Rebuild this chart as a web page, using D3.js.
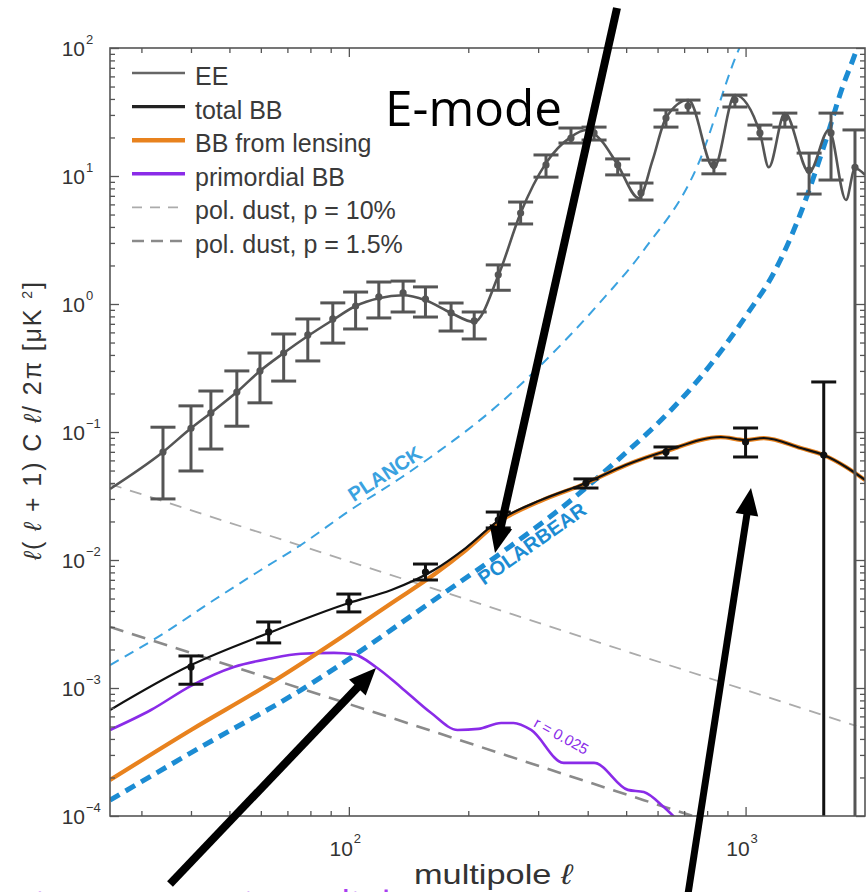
<!DOCTYPE html>
<html><head><meta charset="utf-8">
<script src="https://cdn.jsdelivr.net/npm/d3@7"></script>
<style>body{margin:0;background:#fff}svg{display:block}</style>
</head><body>
<svg id="chart" width="868" height="892"></svg>
<script>
// ---- EE theory spectrum (multipole, D_l in uK^2)
const eeL = [25, 34.0, 40.0, 44.9, 52.2, 59.7, 68.5, 78.8, 91.1, 104, 119, 137, 156, 181, 207, 238, 271, 314, 363, 396, 432, 476, 538, 583, 630, 718, 832, 940, 1087, 1144, 1256, 1446, 1622, 1791, 1887, 2000];
const eeV = [0.0359, 0.0698, 0.107, 0.141, 0.205, 0.30, 0.414, 0.562, 0.75, 0.965, 1.11, 1.17, 1.07, 0.851, 0.723, 1.66, 5.14, 12.6, 20.2, 22.9, 19.1, 12.2, 6.73, 13.3, 28.4, 39.2, 11.5, 42.9, 21.7, 11.7, 31.0, 10.7, 22.9, 6.49, 11.5, 10.2];

// ---- EE band powers with error bars
const eeDataL  = [34.0, 40.0, 44.9, 52.2, 59.7, 68.5, 78.8, 91.1, 104, 119, 137, 156, 181, 207, 238, 271, 314, 363, 415, 476, 545, 630, 716, 832, 940, 1087, 1256, 1446, 1642, 1887];
const eeDataV  = [0.0698, 0.107, 0.141, 0.205, 0.30, 0.414, 0.573, 0.764, 0.965, 1.135, 1.22, 1.094, 0.851, 0.737, 1.69, 5.14, 12.2, 19.8, 21.7, 12.2, 7.37, 28.4, 35.2, 12.2, 39.2, 21.7, 28.4, 11.1, 21.7, 11.7];
const eeDataLo = [0.030, 0.0496, 0.0736, 0.111, 0.169, 0.25, 0.359, 0.495, 0.638, 0.778, 0.866, 0.791, 0.615, 0.533, 1.28, 4.22, 9.8, 18.1, 19.1, 10.2, 6.49, 24.1, 31.0, 10.4, 34.6, 19.5, 24.1, 7.23, 9.3, 1e-6];
const eeDataHi = [0.109, 0.16, 0.209, 0.30, 0.414, 0.583, 0.764, 1.02, 1.24, 1.485, 1.51, 1.36, 1.018, 0.866, 2.02, 6.26, 14.6, 23.7, 24.1, 13.6, 8.81, 32.8, 39.2, 13.3, 42.9, 25.0, 31.0, 15.1, 31.0, 22.9];

// ---- total BB theory
const bbL = [25, 40, 62.8, 100, 128, 164, 197, 238, 305, 396, 499, 630, 866, 1000, 1112, 1377, 1574, 1791, 2000];
const bbV = [0.000673, 0.00151, 0.00269, 0.00461, 0.00583, 0.00835, 0.0124, 0.0202, 0.0294, 0.040, 0.0552, 0.0711, 0.0914, 0.0866, 0.0898, 0.075, 0.066, 0.0533, 0.0422];

// ---- BB from lensing
const lensL = [25, 40, 62.8, 100, 128, 164, 197, 238, 305, 396, 499, 630, 866, 1000, 1112, 1377, 1574, 1791, 2000];
const lensV = [0.000191, 0.00047, 0.00107, 0.00273, 0.0046, 0.0077, 0.0119, 0.0197, 0.0290, 0.0397, 0.0550, 0.0709, 0.0912, 0.0864, 0.0896, 0.0749, 0.0659, 0.0532, 0.0421];

// ---- primordial BB, r = 0.025
const primL = [25, 31.7, 40, 51.3, 62.8, 75.7, 91.7, 103, 117, 135, 161, 188, 212, 242, 260, 288, 348, 415, 505, 554, 622, 680];
const primV = [0.00047, 0.000673, 0.00104, 0.00146, 0.00169, 0.00185, 0.00188, 0.00183, 0.00146, 0.00102, 0.00064, 0.00047, 0.000479, 0.000533, 0.000533, 0.00047, 0.00026, 0.00026, 0.00016, 0.000154, 0.0001175, 0.00009];

// ---- BB band powers with error bars
const bbDataL  = [40.0, 62.8, 100, 156, 238, 396, 630, 1000, 1574];
const bbDataV  = [0.00146, 0.00274, 0.0047, 0.00806, 0.0205, 0.040, 0.0698, 0.0835, 0.066];
const bbDataLo = [0.00107, 0.00225, 0.00393, 0.00698, 0.0178, 0.0365, 0.0627, 0.0638, 1e-6];
const bbDataHi = [0.00178, 0.00328, 0.00542, 0.0093, 0.0237, 0.043, 0.0764, 0.1075, 0.246];

// ---- polarised dust foregrounds
const dust10L = [25, 200, 1900];
const dust10V = [0.0392, 0.00487, 0.000505];
const dust15L = [25, 100, 554, 800];
const dust15V = [0.0030, 0.00075, 0.000133, 0.000092];

// ---- experiment noise levels
const planckL = [25, 33.6, 45.7, 60, 75.7, 101, 135, 161, 238, 305, 424, 554, 758, 944, 1000];
const planckV = [0.00151, 0.00259, 0.00487, 0.00835, 0.0131, 0.0246, 0.0437, 0.0638, 0.163, 0.334, 0.982, 2.64, 12.2, 85, 130];
const pbL = [25, 42.4, 75.7, 164, 242, 356, 476, 649, 741, 1014, 1178, 1377, 1574, 1770, 1864, 1953];
const pbV = [0.000133, 0.000346, 0.000964, 0.00487, 0.01135, 0.0279, 0.0604, 0.1486, 0.233, 0.851, 1.75, 5.14, 16.9, 53.3, 80.6, 120];

// ---- axes
const yTickExps = [-4, -3, -2, -1, 0, 1, 2];
const xTickExps = [2, 3];
const legendLabels = ["EE", "total BB", "BB from lensing", "primordial BB", "pol. dust, p = 10%", "pol. dust, p = 1.5%"];

const svg = d3.select("#chart");
const M = {l: 110, r: 865, t: 48, b: 816};
const x = d3.scaleLog().domain([25, 2000]).range([M.l, M.r]);
const y = d3.scaleLog().domain([1e-4, 1e2]).range([M.b, M.t]);
const FONT = "'Liberation Sans', Arial, Helvetica, sans-serif";

svg.append("defs").append("clipPath").attr("id", "plotclip")
  .append("rect").attr("x", M.l).attr("y", M.t).attr("width", M.r - M.l).attr("height", M.b - M.t);

const plot = svg.append("g").attr("clip-path", "url(#plotclip)");
const zip = (L, V) => L.map((l, i) => [l, V[i]]);
const line = d3.line().x(d => x(d[0])).y(d => y(d[1])).curve(d3.curveMonotoneX);

function curve(L, V, color, width, dash) {
  plot.append("path").attr("d", line(zip(L, V)))
    .attr("fill", "none").attr("stroke", color).attr("stroke-width", width)
    .attr("stroke-dasharray", dash || null).attr("stroke-linejoin", "round");
}

// dust foregrounds
curve(dust10L, dust10V, "#ababab", 1.8, "12,9");
curve(dust15L, dust15V, "#8a8a8a", 2.6, "14,9");
// noise curves
curve(planckL, planckV, "#3aa2e0", 2, "10,7");
curve(pbL, pbV, "#1c8cd3", 5, "11,7");
// EE
curve(eeL, eeV, "#555", 2.6);
// BB components
curve(primL, primV, "#8a2be8", 2.6);
curve(lensL, lensV, "#e8821e", 4.2);
curve(bbL, bbV, "#111", 2.2);

function errorBars(L, V, Lo, Hi, color, w) {
  const g = plot.append("g").attr("stroke", color).attr("stroke-width", w);
  L.forEach((l, i) => {
    const cx = x(l);
    g.append("line").attr("x1", cx).attr("x2", cx).attr("y1", y(Math.max(Lo[i], 1e-5))).attr("y2", y(Hi[i]));
    g.append("line").attr("x1", cx - 12.5).attr("x2", cx + 12.5).attr("y1", y(Hi[i])).attr("y2", y(Hi[i]));
    if (Lo[i] > 1e-4) g.append("line").attr("x1", cx - 12.5).attr("x2", cx + 12.5).attr("y1", y(Lo[i])).attr("y2", y(Lo[i]));
    plot.append("circle").attr("cx", cx).attr("cy", y(V[i])).attr("r", 3.6).attr("fill", color);
  });
}
errorBars(eeDataL, eeDataV, eeDataLo, eeDataHi, "#555", 3);
errorBars(bbDataL, bbDataV, bbDataLo, bbDataHi, "#111", 3);

// curve labels
function label(l, v, text, color, size, angle, weight) {
  svg.append("text").attr("transform", `translate(${x(l)},${y(v)}) rotate(${angle})`)
    .attr("text-anchor", "middle").attr("dominant-baseline", "middle")
    .attr("font-family", FONT).attr("font-size", size).attr("font-weight", weight || "normal")
    .attr("fill", color).text(text);
}
label(124, 0.0461, "PLANCK", "#3aa2e0", 20, -33, "bold");
label(291, 0.0131, "POLARBEAR", "#1c8cd3", 20, -35, "bold");
label(342, 0.000414, "r = 0.025", "#8a2be8", 15, 29);

// frame and ticks
const frame = svg.append("g");
frame.append("rect").attr("x", M.l).attr("y", M.t).attr("width", M.r - M.l).attr("height", M.b - M.t)
  .attr("fill", "none").attr("stroke", "#555").attr("stroke-width", 1.6);

const xMajor = xTickExps.map(e => Math.pow(10, e));
const xMinor = [];
[10, 100, 1000].forEach(d => { for (let k = 2; k <= 9; k++) { const v = k * d; if (v > 25 && v < 2000) xMinor.push(v); } });
const yMajor = yTickExps.map(e => Math.pow(10, e));
const yMinor = [];
yTickExps.slice(0, -1).forEach(e => { for (let k = 2; k <= 9; k++) yMinor.push(k * Math.pow(10, e)); });

function axisG(axis, tx, ty) {
  const g = frame.append("g").attr("transform", `translate(${tx},${ty})`).call(axis);
  g.select(".domain").remove();
  g.selectAll("text").remove();
  g.selectAll("line").attr("stroke", "#555").attr("stroke-width", 1.3);
}
axisG(d3.axisBottom(x).tickValues(xMajor).tickSize(-9), 0, M.b);
axisG(d3.axisBottom(x).tickValues(xMinor).tickSize(-5), 0, M.b);
axisG(d3.axisTop(x).tickValues(xMajor).tickSize(-9), 0, M.t);
axisG(d3.axisTop(x).tickValues(xMinor).tickSize(-5), 0, M.t);
axisG(d3.axisLeft(y).tickValues(yMajor).tickSize(-9), M.l, 0);
axisG(d3.axisLeft(y).tickValues(yMinor).tickSize(-5), M.l, 0);
axisG(d3.axisRight(y).tickValues(yMajor).tickSize(-9), M.r, 0);
axisG(d3.axisRight(y).tickValues(yMinor).tickSize(-5), M.r, 0);

// tick labels with superscript exponents
yTickExps.forEach(e => {
  const ty = y(Math.pow(10, e));
  frame.append("text").attr("x", 85).attr("y", ty + 8).attr("text-anchor", "end")
    .attr("font-family", FONT).attr("font-size", 21).attr("fill", "#333").text("10");
  frame.append("text").attr("x", 86).attr("y", ty - 4).attr("text-anchor", "start")
    .attr("font-family", FONT).attr("font-size", 13).attr("fill", "#333").text(e < 0 ? "\u2212" + (-e) : String(e));
});
xTickExps.forEach(e => {
  const tx = x(Math.pow(10, e));
  frame.append("text").attr("x", tx + 4).attr("y", 856).attr("text-anchor", "end")
    .attr("font-family", FONT).attr("font-size", 21).attr("fill", "#333").text("10");
  frame.append("text").attr("x", tx + 5).attr("y", 843).attr("text-anchor", "start")
    .attr("font-family", FONT).attr("font-size", 13).attr("fill", "#333").text(String(e));
});

// axis titles
svg.append("text").attr("x", 493).attr("y", 884).attr("text-anchor", "middle")
  .attr("font-family", FONT).attr("font-size", 28).attr("fill", "#333")
  .attr("textLength", 158).attr("lengthAdjust", "spacingAndGlyphs")
  .html("multipole <tspan font-style='italic'>\u2113</tspan>");

const yl = svg.append("text").attr("transform", "translate(41,421) rotate(-90)").attr("text-anchor", "middle")
  .attr("font-family", FONT).attr("font-size", 25).attr("fill", "#333")
  .attr("textLength", 278).attr("lengthAdjust", "spacing");
yl.append("tspan").attr("font-style", "italic").text("\u2113");
yl.append("tspan").text("( ");
yl.append("tspan").attr("font-style", "italic").text("\u2113");
yl.append("tspan").text(" + 1) C ");
yl.append("tspan").attr("font-style", "italic").text("\u2113");
yl.append("tspan").text("/ 2\u03c0 [\u03bcK ");
yl.append("tspan").attr("font-size", 14).attr("dy", -9).text("2");
yl.append("tspan").attr("dy", 9).text("]");

// legend
const legendStyles = [
  {c: "#666", w: 2.6, d: null},
  {c: "#222", w: 3.2, d: null},
  {c: "#e8821e", w: 4.5, d: null},
  {c: "#8a2be8", w: 3.6, d: null},
  {c: "#ababab", w: 1.8, d: "10,8"},
  {c: "#8a8a8a", w: 2.6, d: "12,7"}
];
const legendRowY = d3.scaleLinear().domain([0, 5]).range([73, 241]);
legendLabels.forEach((t, i) => {
  const ly = legendRowY(i);
  svg.append("line").attr("x1", 132).attr("x2", 185).attr("y1", ly).attr("y2", ly)
    .attr("stroke", legendStyles[i].c).attr("stroke-width", legendStyles[i].w)
    .attr("stroke-dasharray", legendStyles[i].d);
  svg.append("text").attr("x", 195).attr("y", ly + 12).attr("font-family", FONT)
    .attr("font-size", 25).attr("fill", "#3a3a3a").text(t);
});

// slide annotations
const ANN = "'Open Sans', 'Noto Sans', sans-serif";
svg.append("text").attr("x", 385).attr("y", 126).attr("font-family", ANN).attr("font-size", 50)
  .attr("fill", "#000").attr("textLength", 177).attr("lengthAdjust", "spacingAndGlyphs").text("E-mode");
svg.append("text").attr("x", -71).attr("y", 923).attr("font-family", ANN).attr("font-size", 44)
  .attr("fill", "#a83ef0").text("Inflation");
svg.append("text").attr("x", 205).attr("y", 923).attr("font-family", ANN).attr("font-size", 44)
  .attr("fill", "#a83ef0").attr("textLength", 186).attr("lengthAdjust", "spacingAndGlyphs").text("Primordial");

function arrow(x1, y1, x2, y2, w) {
  const dx = x2 - x1, dy = y2 - y1, len = Math.hypot(dx, dy), ux = dx / len, uy = dy / len;
  const L = 27, H = 11.5;
  const bx = x2 - ux * L, by = y2 - uy * L;
  svg.append("line").attr("x1", x1).attr("y1", y1).attr("x2", bx + ux * 3).attr("y2", by + uy * 3)
    .attr("stroke", "#000").attr("stroke-width", w);
  svg.append("path").attr("d", `M${x2},${y2}L${bx - uy * H},${by + ux * H}L${bx + uy * H},${by - ux * H}Z`)
    .attr("fill", "#000");
}
arrow(617, 8, 495, 553, 8);
arrow(170, 884, 376, 668, 8);
arrow(688, 894, 751, 488, 7);
</script>
</body></html>
